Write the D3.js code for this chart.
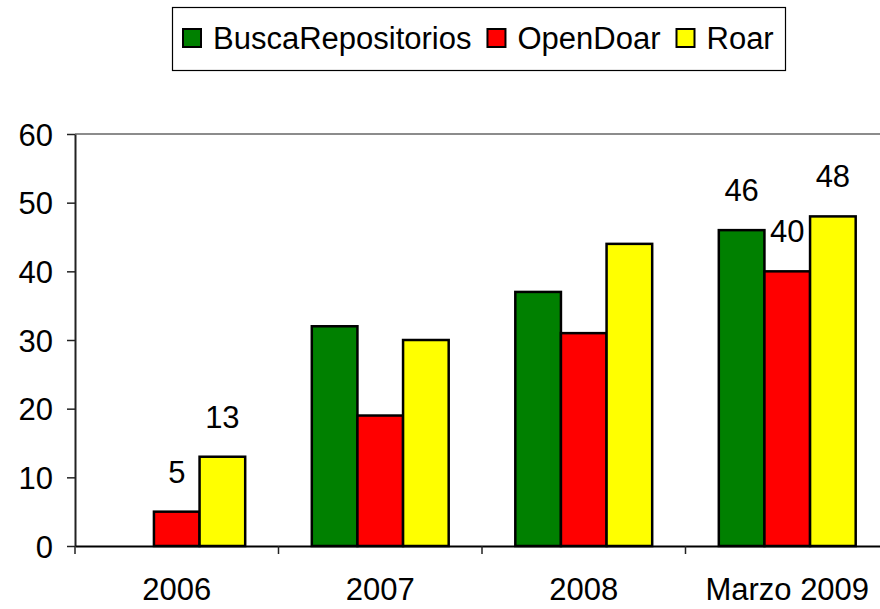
<!DOCTYPE html>
<html>
<head>
<meta charset="utf-8">
<script src="https://cdn.jsdelivr.net/npm/d3@7"></script>
<style>
  body { margin: 0; background: #fff; }
  text { font-family: "Liberation Sans", Arial, sans-serif; fill: #000; }
</style>
</head>
<body>
<div class="myChart"></div>
<script>
var svgWidth = 880;
var svgHeight = 609;

// data
var categories = ["2006", "2007", "2008", "Marzo 2009"];
var seriesNames = ["BuscaRepositorios", "OpenDoar", "Roar"];
var seriesColors = ["#008000", "#ff0000", "#ffff00"];
var busca = [0, 32, 37, 46];
var openDoar = [5, 19, 31, 40];
var roar = [13, 30, 44, 48];
var yTicks = [0, 10, 20, 30, 40, 50, 60];
// which bars carry a value label
var showLabel = [[false, false, false, true], [true, false, false, true], [true, false, false, true]];

var seriesValues = [busca, openDoar, roar];
var fontSize = "31px";
var fontFamily = "'Liberation Sans', Arial, sans-serif";

var chartMargin = { top: 134, right: -9, bottom: 63, left: 75 };
var chartWidth = svgWidth - chartMargin.left - chartMargin.right;
var chartHeight = svgHeight - chartMargin.top - chartMargin.bottom;

var svg = d3.select(".myChart")
  .append("svg")
  .attr("width", svgWidth)
  .attr("height", svgHeight);

var chart = svg.append("g")
  .attr("transform", "translate(" + chartMargin.left + "," + chartMargin.top + ")");

var xScale = d3.scaleBand()
  .domain(categories)
  .range([0, chartWidth])
  .paddingInner(0)
  .paddingOuter(0);

var xInner = d3.scaleBand()
  .domain(seriesNames)
  .range([0, xScale.bandwidth()])
  .paddingOuter(0.73)
  .paddingInner(0);

var yScale = d3.scaleLinear()
  .domain([0, 60])
  .range([chartHeight, 0]);

// plot area top border
chart.append("line")
  .attr("x1", 0).attr("x2", chartWidth)
  .attr("y1", 0).attr("y2", 0)
  .attr("stroke", "#8c8c8c")
  .attr("stroke-width", 2);

// bars
var rows = [];
seriesNames.forEach(function(s, si) {
  categories.forEach(function(c, ci) {
    rows.push({ series: s, si: si, cat: c, value: seriesValues[si][ci], label: showLabel[si][ci] });
  });
});

chart.selectAll("rect.bar")
  .data(rows.filter(function(d) { return d.value > 0; }))
  .enter().append("rect")
  .attr("class", "bar")
  .attr("x", function(d) { return xScale(d.cat) + xInner(d.series); })
  .attr("y", function(d) { return yScale(d.value); })
  .attr("width", xInner.bandwidth())
  .attr("height", function(d) { return chartHeight - yScale(d.value); })
  .attr("fill", function(d) { return seriesColors[d.si]; })
  .attr("stroke", "#000")
  .attr("stroke-width", 2.5);

chart.selectAll("text.val")
  .data(rows.filter(function(d) { return d.label; }))
  .enter().append("text")
  .attr("class", "val")
  .attr("x", function(d) { return xScale(d.cat) + xInner(d.series) + xInner.bandwidth() / 2; })
  .attr("y", function(d) { return yScale(d.value) - 29; })
  .attr("text-anchor", "middle")
  .style("font-size", fontSize)
  .text(function(d) { return d.value; });

// y axis
var leftAxis = d3.axisLeft(yScale).tickValues(yTicks).tickSize(8).tickSizeOuter(0).tickPadding(14);
var gy = chart.append("g").call(leftAxis)
  .attr("font-size", null).attr("font-family", null);
gy.select(".domain").attr("stroke", "#222").attr("stroke-width", 2);
gy.selectAll(".tick line").attr("stroke", "#222").attr("stroke-width", 1.5);
gy.selectAll(".tick text")
  .attr("dy", "0.36em")
  .style("font-size", fontSize)
  .style("font-family", fontFamily);

// x axis
var bottomAxis = d3.axisBottom(xScale).tickSize(0).tickPadding(32);
var gx = chart.append("g")
  .attr("transform", "translate(0," + chartHeight + ")")
  .call(bottomAxis)
  .attr("font-size", null).attr("font-family", null);
gx.select(".domain").attr("stroke", "#000").attr("stroke-width", 2);
gx.selectAll(".tick text")
  .style("font-size", fontSize)
  .style("font-family", fontFamily);

// category separators
gx.selectAll("line.sep")
  .data(categories)
  .enter().append("line")
  .attr("class", "sep")
  .attr("x1", function(d) { return xScale(d); })
  .attr("x2", function(d) { return xScale(d); })
  .attr("y1", 0).attr("y2", 8)
  .attr("stroke", "#222").attr("stroke-width", 1.5);

// legend
var legend = svg.append("g").attr("transform", "translate(172,7)");
legend.append("rect")
  .attr("x", 0.5).attr("y", 0.5)
  .attr("width", 613).attr("height", 63)
  .attr("fill", "#fff").attr("stroke", "#000").attr("stroke-width", 1.2);

var cursor = 11;
seriesNames.forEach(function(s, i) {
  legend.append("rect")
    .attr("x", cursor).attr("y", 22)
    .attr("width", 18).attr("height", 18)
    .attr("fill", seriesColors[i])
    .attr("stroke", "#000").attr("stroke-width", 2);
  var t = legend.append("text")
    .attr("x", cursor + 30).attr("y", 42)
    .style("font-size", fontSize)
    .text(s);
  cursor += 30 + t.node().getComputedTextLength() + 16;
});
</script>
</body>
</html>
